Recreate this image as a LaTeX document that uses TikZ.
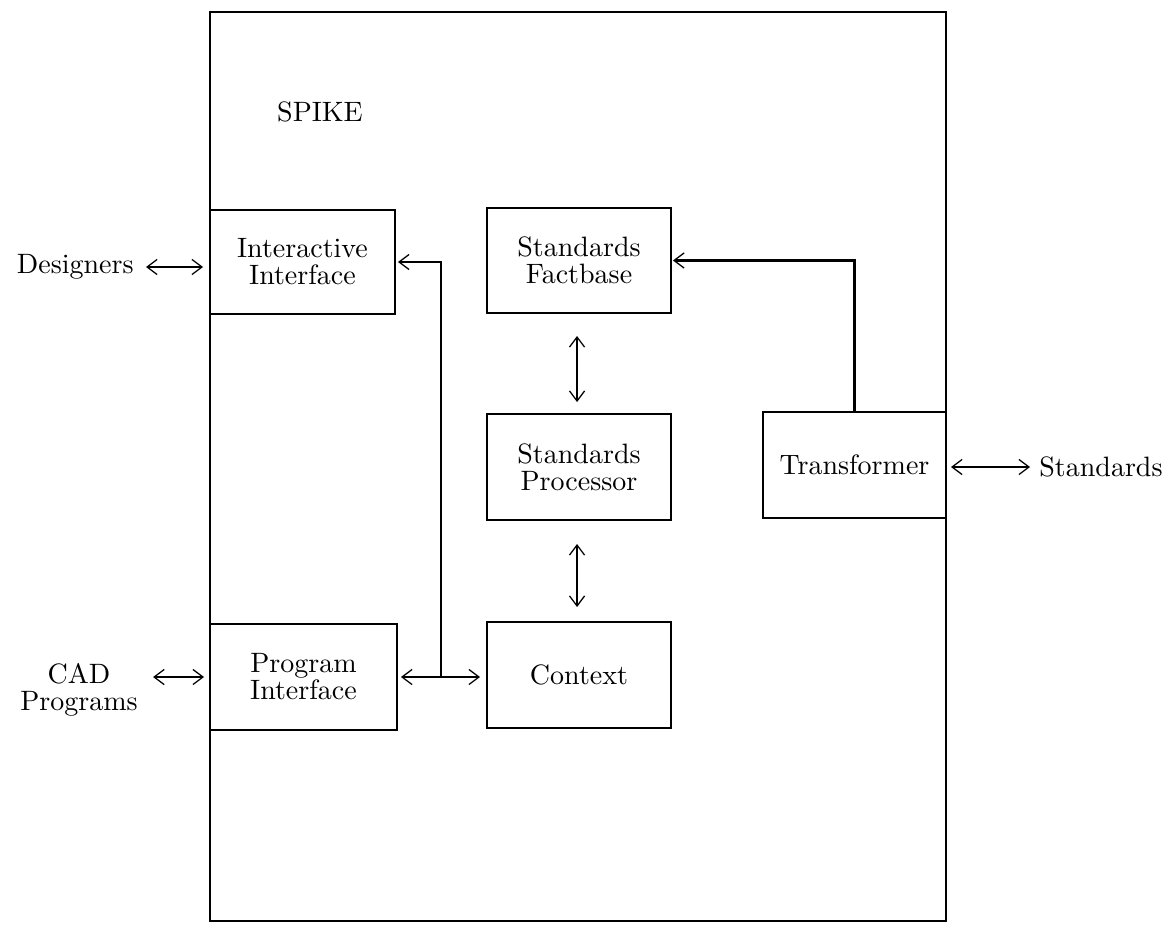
\documentclass[tikz,border=0pt]{standalone}
\usetikzlibrary{arrows.meta}
\begin{document}
\begin{tikzpicture}[x=0.357pt,y=-0.357pt,
  box/.style={draw,line width=0.7pt,inner sep=0pt,align=center,font=\fontsize{10}{9.6}\selectfont},
  lbl/.style={inner sep=1pt,align=center,font=\fontsize{10}{9.6}\selectfont},
  conn/.style={line width=0.75pt},
  arr/.style={conn,{Straight Barb[length=3.6pt,width=5.4pt,line width=0.45pt]}-{Straight Barb[length=3.6pt,width=5.4pt,line width=0.45pt]}},
  rarr/.style={conn,-{Straight Barb[length=3.6pt,width=5.4pt,line width=0.45pt]}}]
\useasboundingbox (0,0) rectangle (1175,924);
\draw[line width=0.7pt] (210,12) rectangle (946,921);
\node[lbl] (spike) at (320,112) {SPIKE};
\node[box,minimum width=185*0.357pt,minimum height=104*0.357pt] (ii) at (302.5,262) {Interactive\\Interface};
\node[box,minimum width=184*0.357pt,minimum height=105*0.357pt] (sf) at (579,260.5) {Standards\\Factbase};
\node[box,minimum width=184*0.357pt,minimum height=106*0.357pt] (sp) at (579,467) {Standards\\Processor};
\node[box,minimum width=184*0.357pt,minimum height=106*0.357pt] (cx) at (579,675) {Context};
\node[box,minimum width=187*0.357pt,minimum height=106*0.357pt] (pi) at (303.5,677) {Program\\Interface};
\node[box,minimum width=183*0.357pt,minimum height=106*0.357pt] (tr) at (854.5,465) {Transformer};
\node[lbl,anchor=east] (des) at (137,267) {Designers};
\node[lbl] (cad) at (79,690) {CAD\\Programs};
\node[lbl,anchor=west] (std) at (1036,467) {Standards};
\coordinate (j) at (441,677);
\draw[arr,shorten <=9*0.357pt,shorten >=6*0.357pt] (des.east) -- (des.east -| ii.west);
\draw[arr,shorten <=12*0.357pt,shorten >=5*0.357pt] (cad.east |- pi.west) -- (pi.west);
\draw[arr,shorten <=3*0.357pt,shorten >=6*0.357pt] (pi.east) -- (pi.east -| cx.west);
\draw[rarr,shorten >=2*0.357pt] (j) |- (ii.east);
\draw[rarr,shorten >=1*0.357pt] (tr.north) |- (sf.east);
\draw[arr,shorten <=22*0.357pt,shorten >=11*0.357pt] ([xshift=-0.7pt]sf.south) -- ([xshift=-0.7pt]sp.north);
\draw[arr,shorten <=23*0.357pt,shorten >=14*0.357pt] ([xshift=-0.7pt]sp.south) -- ([xshift=-0.7pt]cx.north);
\draw[arr,shorten <=4*0.357pt,shorten >=6*0.357pt] (tr.east |- std.west) -- (std.west);
\end{tikzpicture}
\end{document}
